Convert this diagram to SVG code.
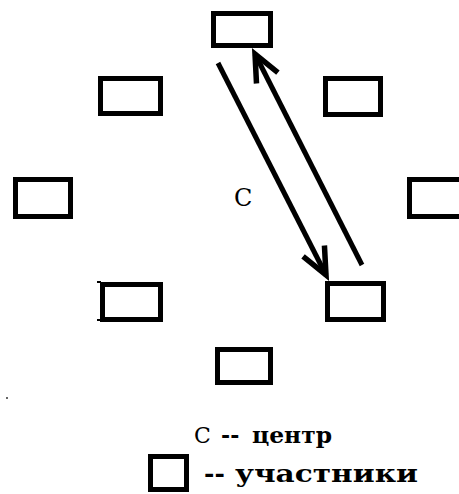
<svg xmlns="http://www.w3.org/2000/svg" width="459" height="494" viewBox="0 0 459 494">
<style>
.box{fill:#fff;stroke:#000;stroke-width:5}
.arr{fill:none;stroke:#000;stroke-width:5}
.t{font-family:"DejaVu Serif","Liberation Serif",serif;fill:#000}
.b{font-weight:bold}
</style>
<defs>
<marker id="head" markerUnits="userSpaceOnUse" markerWidth="40" markerHeight="40" refX="30" refY="20" orient="auto" viewBox="0 0 40 40">
<path d="M3,8 L30,20 L3,32" fill="none" stroke="#000" stroke-width="5.5" stroke-linejoin="miter"/>
</marker>
</defs>
<rect width="459" height="494" fill="#fff"/>
<g id="n-top"><rect class="box" x="213.5" y="13.5" width="57" height="32"/></g>
<g id="n-upper-left"><rect class="box" x="100.5" y="78.5" width="60" height="35"/></g>
<g id="n-upper-right"><rect class="box" x="325.5" y="78.5" width="55" height="36"/></g>
<g id="n-left"><rect class="box" x="15.5" y="179.5" width="55" height="37"/></g>
<g id="n-right"><rect class="box" x="409.5" y="179.5" width="60" height="37"/></g>
<g id="n-lower-left"><rect class="box" x="102.5" y="284.5" width="58" height="35"/><rect x="97" y="281" width="4" height="2"/><rect x="97" y="319" width="4" height="2"/></g>
<g id="n-lower-right"><rect class="box" x="327.5" y="283.5" width="56" height="36"/></g>
<g id="n-bottom"><rect class="box" x="217.5" y="349.5" width="53" height="33"/></g>
<g id="connectors">
<path class="arr" d="M218,63 L326,275" marker-end="url(#head)"/>
<path class="arr" d="M362,265 L255,54" marker-end="url(#head)"/>
</g>
<text class="t" x="234" y="206" font-size="24">C</text>
<rect x="6" y="397" width="2" height="2" fill="#666"/>
<g id="legend">
<text class="t" font-size="22" y="443"><tspan x="194">C</tspan><tspan class="b" x="221">--</tspan><tspan class="b" x="252" textLength="80" lengthAdjust="spacingAndGlyphs">центр</tspan></text>
<rect class="box" x="150.5" y="456.5" width="36" height="33"/>
<text class="t b" font-size="25" y="482"><tspan x="204">--</tspan><tspan x="235" textLength="183" lengthAdjust="spacingAndGlyphs">участники</tspan></text>
</g>
</svg>
